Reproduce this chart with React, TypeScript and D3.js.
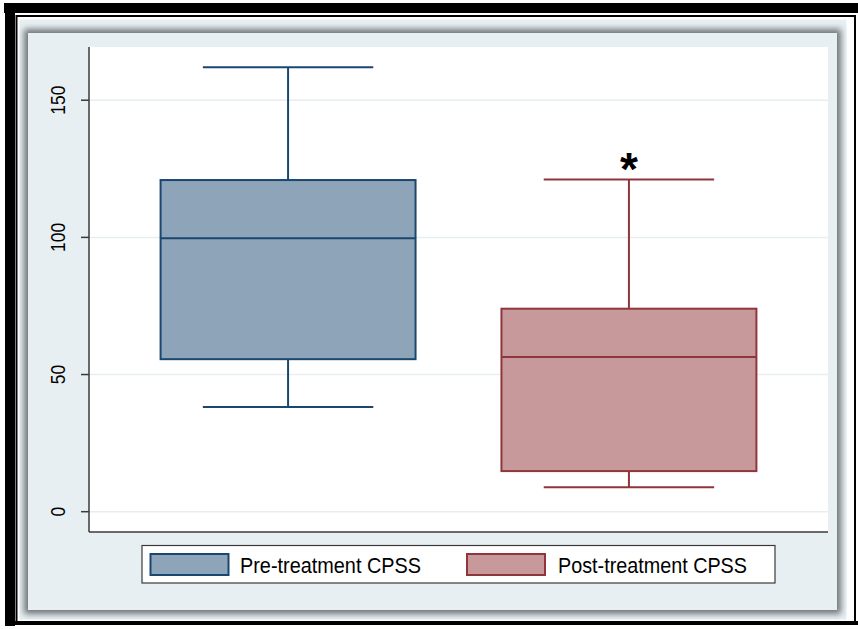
import React from "react";
import * as d3 from "d3";

const categories = ["Pre-treatment CPSS", "Post-treatment CPSS"];
const whiskerLow = [38.2, 8.9];
const q1 = [55.6, 14.8];
const median = [99.7, 56.4];
const q3 = [120.9, 74.0];
const whiskerHigh = [162.0, 121.1];
const yTicks = [0, 50, 100, 150];
const yDomain = [-7.4, 169.4];
const fills = ["#8ea4b9", "#c8999b"];
const strokes = ["#1a476f", "#90353b"];
const significance = ["", "*"];

const W = 858;
const H = 629;
const plot = { left: 89, right: 828, top: 47, bottom: 532 };
const FONT = "'Liberation Sans', Arial, Helvetica, sans-serif";

export default function App() {
  const x = d3
    .scalePoint<string>()
    .domain(categories)
    .range([plot.left, plot.right])
    .padding(0.584);
  const step = x.step();
  const boxW = step * 0.748;
  const capW = step * 0.5;
  const y = d3.scaleLinear().domain(yDomain).range([plot.bottom, plot.top]);

  return (
    <svg
      width={W}
      height={H}
      style={{ position: "absolute", left: 0, top: 0, display: "block" }}
      fontFamily={FONT}
    >
      <defs>
        <filter id="blur" x="-5%" y="-5%" width="110%" height="110%">
          <feGaussianBlur stdDeviation="3" />
        </filter>
      </defs>
      <rect x={0} y={0} width={W} height={H} fill="#ffffff" />
      {/* thick black frame bands */}
      <rect x={4} y={3} width={W - 4} height={10} fill="#000" />
      <rect x={5} y={3} width={10} height={623} fill="#000" />
      <rect x={5} y={621} width={W - 5} height={4} fill="#000" />
      {/* thin black frame */}
      <rect x={16.5} y={16} width={838.5} height={606} fill="none" stroke="#000" strokeWidth={2} />
      {/* panel */}
      <rect x={19.5} y={19.5} width={827} height={600} fill="#e8eff2" />
      <rect x={24} y={29} width={817} height={585} fill="#6f7478" filter="url(#blur)" />
      <rect x={28} y={33} width={809} height={577} fill="#e8eff2" />
      {/* plot area */}
      <rect x={plot.left} y={plot.top} width={plot.right - plot.left} height={plot.bottom - plot.top} fill="#ffffff" />
      {yTicks.map((t) => (
        <line key={"g" + t} x1={plot.left} x2={plot.right} y1={y(t)} y2={y(t)} stroke="#e6eef1" strokeWidth={1.5} />
      ))}
      {/* boxes */}
      {categories.map((c, i) => {
        const cx = x(c) as number;
        return (
          <g key={c} stroke={strokes[i]} strokeWidth={2}>
            <line x1={cx} x2={cx} y1={y(whiskerHigh[i])} y2={y(q3[i])} />
            <line x1={cx} x2={cx} y1={y(q1[i])} y2={y(whiskerLow[i])} />
            <line x1={cx - capW / 2} x2={cx + capW / 2} y1={y(whiskerHigh[i])} y2={y(whiskerHigh[i])} />
            <line x1={cx - capW / 2} x2={cx + capW / 2} y1={y(whiskerLow[i])} y2={y(whiskerLow[i])} />
            <rect x={cx - boxW / 2} y={y(q3[i])} width={boxW} height={y(q1[i]) - y(q3[i])} fill={fills[i]} />
            <line x1={cx - boxW / 2} x2={cx + boxW / 2} y1={y(median[i])} y2={y(median[i])} />
            {significance[i] && (
              <text
                x={cx}
                y={y(whiskerHigh[i]) + 6}
                textAnchor="middle"
                fontSize={46}
                fontWeight="bold"
                fill="#000"
                stroke="none"
              >
                {significance[i]}
              </text>
            )}
          </g>
        );
      })}
      {/* axes */}
      <line x1={plot.left} x2={plot.left} y1={plot.top} y2={plot.bottom} stroke="#3a3a3a" strokeWidth={1.5} />
      <line x1={plot.left} x2={plot.right} y1={plot.bottom} y2={plot.bottom} stroke="#3a3a3a" strokeWidth={1.5} />
      {yTicks.map((t) => (
        <g key={"t" + t}>
          <line x1={plot.left - 8} x2={plot.left} y1={y(t)} y2={y(t)} stroke="#3a3a3a" strokeWidth={1.5} />
          <text
            transform={`translate(65,${y(t)}) rotate(-90)`}
            textAnchor="middle"
            fontSize={21}
            fill="#000"
            textLength={String(t).length * 9.7}
            lengthAdjust="spacingAndGlyphs"
          >
            {t}
          </text>
        </g>
      ))}
      {/* legend */}
      <rect x={142} y={545.5} width={633} height={37.5} fill="#ffffff" stroke="#3a3a3a" strokeWidth={1.2} />
      {categories.map((c, i) => {
        const lx = [150.5, 467][i];
        const tx = [240, 558][i];
        const tl = [181, 189][i];
        return (
          <g key={"l" + c}>
            <rect x={lx} y={554} width={78} height={21} fill={fills[i]} stroke={strokes[i]} strokeWidth={2} />
            <text x={tx} y={572.5} fontSize={22} fill="#000" textLength={tl} lengthAdjust="spacingAndGlyphs">
              {c}
            </text>
          </g>
        );
      })}
    </svg>
  );
}
